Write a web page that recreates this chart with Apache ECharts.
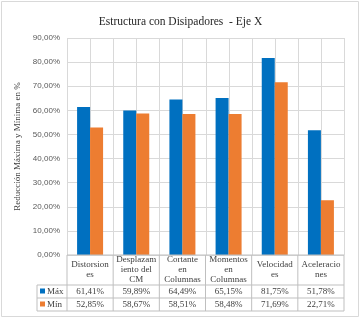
<!DOCTYPE html>
<html>
<head>
<meta charset="utf-8">
<script src="https://cdn.jsdelivr.net/npm/echarts@6/dist/echarts.min.js"></script>
<style>
  html, body { margin: 0; padding: 0; background: #fff; }
  #main { width: 361px; height: 320px; }
</style>
</head>
<body>
<div id="main"></div>
<script>
var categories = ['Distorsion\nes', 'Desplazam\niento del\nCM', 'Cortante\nen\nColumnas', 'Momentos\nen\nColumnas', 'Velocidad\nes', 'Aceleracio\nnes'];
var seriesNames = ['Máx', 'Mín'];
var maxVals = [61.41, 59.89, 64.49, 65.15, 81.75, 51.78];
var minVals = [52.85, 58.67, 58.51, 58.48, 71.69, 22.71];
var colors = ['#0070c0', '#ed7d31'];

var serif = '"Liberation Serif", "Times New Roman", serif';
var sans = '"Liberation Sans", Arial, sans-serif';

function pct(v) {
    return v.toFixed(2).replace('.', ',') + '%';
}

var dom = document.getElementById('main');
var myChart = echarts.init(dom);

var option = {
    animation: false,
    title: {
        text: 'Estructura con Disipadores  - Eje X',
        left: 'center',
        top: 11,
        textStyle: {fontFamily: serif, fontSize: 11.5, fontWeight: 'normal', color: '#262626'}
    },
    grid: {left: 67, right: 17, top: 38, bottom: 65},
    xAxis: {
        type: 'category',
        data: categories,
        axisLine: {show: false},
        axisTick: {show: false},
        axisLabel: {show: false}
    },
    yAxis: {
        type: 'value',
        min: 0, max: 90, interval: 10,
        name: 'Reducción Máxima y Mínima en %',
        nameLocation: 'middle',
        nameGap: 40,
        nameTextStyle: {fontFamily: serif, fontSize: 9, color: '#404040'},
        axisLine: {show: false},
        axisTick: {show: false},
        axisLabel: {
            formatter: function (v) { return pct(v); },
            fontFamily: sans, fontSize: 8, color: '#595959', margin: 7
        },
        splitLine: {show: true, lineStyle: {color: '#d9d9d9', width: 1}}
    },
    series: [
        {
            name: seriesNames[0],
            type: 'bar',
            data: maxVals,
            barWidth: 13,
            barGap: '0%',
            z: 5,
            itemStyle: {color: colors[0]}
        },
        {
            name: seriesNames[1],
            type: 'bar',
            data: minVals,
            barWidth: 13,
            z: 5,
            itemStyle: {color: colors[1]}
        }
    ]
};
myChart.setOption(option);

// data table under the plot
var rows = [maxVals, minVals];
var lineColor = '#bfbfbf';
var x0 = myChart.convertToPixel({xAxisIndex: 0}, 0);
var x1 = myChart.convertToPixel({xAxisIndex: 0}, 1);
var cw = x1 - x0;
var left = x0 - cw / 2;
var right = left + cw * categories.length;
var yTop = myChart.convertToPixel({yAxisIndex: 0}, 0);
var yMax = myChart.convertToPixel({yAxisIndex: 0}, 90);
var headH = 30, rowH = 13;
var yHead = yTop + headH;
var labelLeft = 37;
var yEnd = yHead + rowH * rows.length;

var g = [];
function line(xa, ya, xb, yb, color, z) {
    g.push({type: 'line', silent: true, z: z || 1, shape: {x1: xa, y1: ya, x2: xb, y2: yb},
        style: {stroke: color || lineColor, lineWidth: 1}});
}
// vertical gridlines every half category
for (var k = 0; k <= categories.length * 2; k++) {
    line(Math.round(left + cw * k / 2) + 0.5, yMax, Math.round(left + cw * k / 2) + 0.5, yTop, '#d9d9d9', 1);
}
line(left, yTop, right, yTop, lineColor, 6);
line(labelLeft, yHead, right, yHead);
for (var r = 0; r < rows.length; r++) {
    line(labelLeft, yHead + rowH * (r + 1), right, yHead + rowH * (r + 1));
}
line(labelLeft, yHead, labelLeft, yEnd);
for (var i = 0; i <= categories.length; i++) {
    line(left + cw * i, yTop, left + cw * i, yEnd);
}
for (var i = 0; i < categories.length; i++) {
    var cx = left + cw * i + cw / 2;
    g.push({type: 'text', silent: true, x: cx, y: yTop + headH / 2,
        style: {text: categories[i], fontFamily: serif, fontSize: 9, fill: '#404040',
            align: 'center', verticalAlign: 'middle', lineHeight: 10}});
    for (var r = 0; r < rows.length; r++) {
        g.push({type: 'text', silent: true, x: cx, y: yHead + rowH * r + rowH / 2 + 0.5,
            style: {text: pct(rows[r][i]), fontFamily: serif, fontSize: 9, fill: '#404040',
                align: 'center', verticalAlign: 'middle'}});
    }
}
for (var r = 0; r < rows.length; r++) {
    var cy = yHead + rowH * r + rowH / 2;
    g.push({type: 'rect', silent: true, shape: {x: 40, y: cy - 3, width: 5, height: 5},
        style: {fill: colors[r]}});
    g.push({type: 'text', silent: true, x: 47, y: cy + 0.5,
        style: {text: seriesNames[r], fontFamily: serif, fontSize: 9, fill: '#404040',
            align: 'left', verticalAlign: 'middle'}});
}
// chart border
g.push({type: 'rect', silent: true, shape: {x: 1.5, y: 1.5, width: 357, height: 315},
    style: {fill: null, stroke: '#d9d9d9', lineWidth: 1}});

myChart.setOption({graphic: g});
</script>
</body>
</html>
